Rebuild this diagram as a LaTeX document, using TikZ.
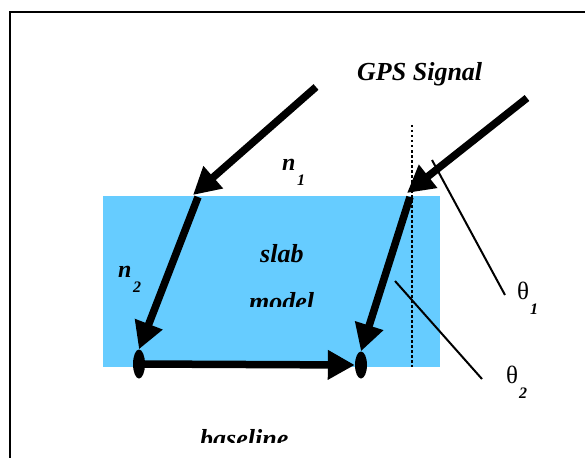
\documentclass[tikz,border=0pt]{standalone}
\usepackage{fontspec}
\setmainfont{Liberation Serif}
\usetikzlibrary{arrows.meta,shapes.geometric}
\definecolor{slabblue}{HTML}{66CCFF}
\begin{document}
\begin{tikzpicture}[x=1pt,y=-1pt,
  lbl/.style={inner sep=0pt, anchor=base west, font=\fontsize{26}{30}\selectfont\bfseries\itshape},
  nlbl/.style={inner sep=0pt, anchor=base west, font=\fontsize{24}{28}\selectfont\bfseries\itshape},
  sublbl/.style={inner sep=0pt, anchor=base west, font=\fontsize{16}{18}\selectfont\bfseries\itshape},
  thlbl/.style={inner sep=0pt, anchor=base west, font=\fontsize{25}{28}\selectfont},
  ray/.style={line width=7.5pt, -{Triangle[length=27pt,width=28pt]}},
  dotnode/.style={ellipse, fill=black, inner sep=0pt},
  leader/.style={line width=2pt},
  normalline/.style={line width=2.5pt, dash pattern=on 2.5pt off 2.5pt},
  frameline/.style={line width=1.5pt}
]
\useasboundingbox (0,0) rectangle (585,457);
\clip (0,0) rectangle (585,457);
% frame
\draw[frameline] (10,12) rectangle (620,490);
% slab
\fill[slabblue] (103,196) rectangle (440,367);
% normal
\coordinate (ntop) at (412,125);
\coordinate (nbot) at (412,367);
\draw[normalline] (ntop) -- (nbot);
% ellipse receivers
\node[dotnode, minimum width=12pt, minimum height=29pt] (e1) at (139,364) {};
\node[dotnode, minimum width=12pt, minimum height=27pt] (e2) at (361,365) {};
% rays
\coordinate (s1) at (316,87);
\coordinate (t1) at (193,195);
\coordinate (s2) at (527,98);
\coordinate (t2) at (407,193);
\coordinate (r1) at (198,197);
\coordinate (r2) at (410,197);
\draw[ray] (s1) -- (t1);
\draw[ray] (s2) -- (t2);
\draw[ray] (r1) -- (e1.north);
\draw[ray] (r2) -- (e2.north);
\draw[ray] (e1.center) -- (e2.west);
% leaders
\coordinate (a1) at (432,160);
\coordinate (b1) at (505,295);
\coordinate (a2) at (395,281);
\coordinate (b2) at (482,379);
\draw[leader] (a1) -- (b1);
\draw[leader] (a2) -- (b2);
% labels
\node[lbl] (gps) at (357,81) {GPS Signal};
\node[nlbl] (n1) at (282,170) {n};
\node[sublbl] (n1s) at (297,185) {1};
\node[nlbl] (n2) at (118,277) {n};
\node[sublbl] (n2s) at (133,292) {2};
\node[lbl] (slab) at (260,262) {slab};
\begin{scope}
\clip (200,250) rectangle (340,306);
\node[lbl] (model) at (249,310) {model};
\end{scope}
\begin{scope}
\clip (150,400) rectangle (340,442);
\node[lbl] (base) at (200,447) {baseline};
\end{scope}
\node[thlbl] (th1) at (517,299) {θ};
\node[sublbl] (th1s) at (530,314) {1};
\node[thlbl] (th2) at (506,383) {θ};
\node[sublbl] (th2s) at (519,398) {2};
\end{tikzpicture}
\end{document}
